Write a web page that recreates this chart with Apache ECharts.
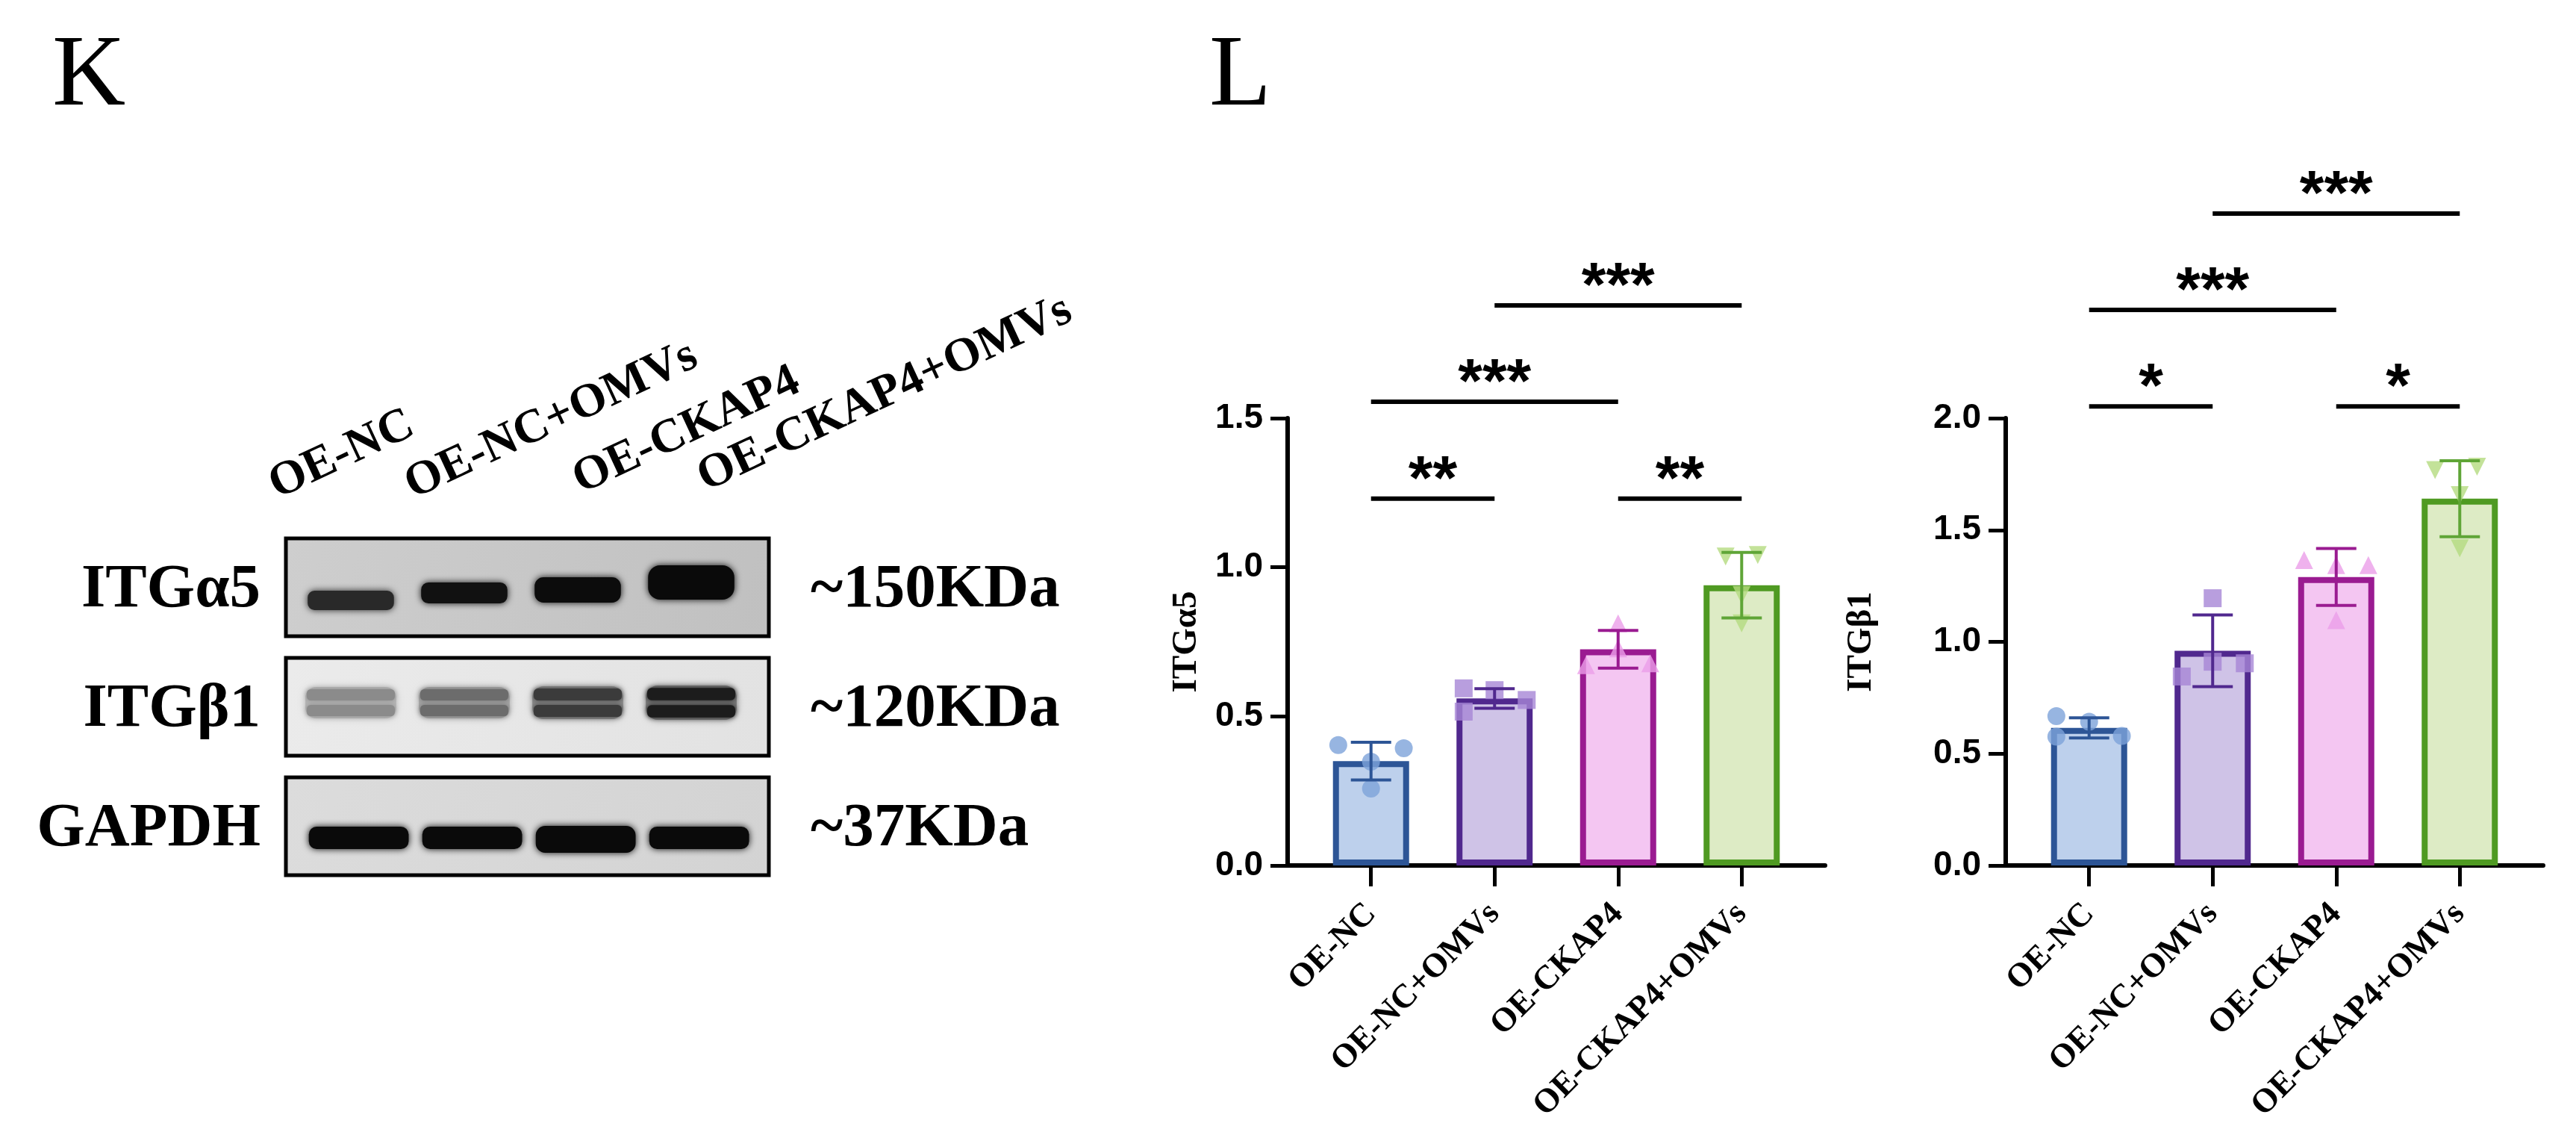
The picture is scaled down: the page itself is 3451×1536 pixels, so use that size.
<!DOCTYPE html>
<html>
<head>
<meta charset="utf-8">
<script src="https://cdn.jsdelivr.net/npm/echarts@6.0.0/dist/echarts.min.js"></script>
<style>
  html, body { margin: 0; padding: 0; background: #fff; }
  #chart { width: 3451px; height: 1536px; }
</style>
</head>
<body>
<div id="chart"></div>
<script>
// groups (same order on the blot and on both bar charts)
const groups = ['OE-NC', 'OE-NC+OMVs', 'OE-CKAP4', 'OE-CKAP4+OMVs'];

// ITGα5 quantification
const itga5Mean = [0.35, 0.56, 0.725, 0.94];
const itga5Sd = [0.063, 0.033, 0.063, 0.11];
const itga5Points = [
  [0.404, 0.393, 0.348, 0.258],
  [0.594, 0.588, 0.555, 0.516],
  [0.812, 0.728, 0.672, 0.678],
  [1.036, 1.041, 0.907, 0.812]
];
const itga5Ticks = [0, 0.5, 1.0, 1.5];
// [from group, to group, bracket height, stars]
const itga5Sig = [[0, 1, 1.23, '**'], [2, 3, 1.23, '**'], [0, 2, 1.555, '***'], [1, 3, 1.878, '***']];

// ITGβ1 quantification
const itgb1Mean = [0.615, 0.96, 1.29, 1.64];
const itgb1Sd = [0.045, 0.16, 0.127, 0.17];
const itgb1Points = [
  [0.668, 0.643, 0.576, 0.579],
  [1.195, 0.911, 0.904, 0.845],
  [1.366, 1.343, 1.343, 1.097],
  [1.768, 1.783, 1.656, 1.418]
];
const itgb1Ticks = [0, 0.5, 1.0, 1.5, 2.0];
const itgb1Sig = [[0, 1, 2.053, '*'], [2, 3, 2.053, '*'], [0, 2, 2.484, '***'], [1, 3, 2.915, '***']];

// western blot (relative band density per lane)
const blotRows = ['ITGα5', 'ITGβ1', 'GAPDH'];
const blotMarkers = ['~150KDa', '~120KDa', '~37KDa'];
const itga5Band = [0.86, 0.97, 0.99, 1.0];
const itgb1Band = [0.42, 0.56, 0.78, 0.92];
const gapdhBand = [1, 1, 1, 1];

// ---- styling / layout ----
const fills = ['#bdd0ec', '#cfc3e7', '#f4c6f2', '#ddebc5'];
const edges = ['#2d5596', '#50288e', '#9a1b91', '#4f9a22'];
const dots = ['#7da2d9', '#a686d6', '#eb9de9', '#b4db7f'];
const errColors = ['#2d5596', '#50288e', '#9a1b91', '#5fa537'];
const shapes = ['circle', 'rect', 'triangle', 'triangle'];
const rotates = [0, 0, 0, 180];
// horizontal scatter of the dots, in category widths
const itga5Jitter = [[-0.265, 0.265, 0, 0], [-0.25, 0, 0.26, -0.25], [0, 0, -0.26, 0.26], [-0.13, 0.13, 0, 0]];
const itgb1Jitter = [[-0.265, 0, -0.265, 0.265], [0, 0, 0.26, -0.25], [-0.26, 0, 0.26, 0], [-0.2, 0.14, 0, 0]];

const serif = 'Liberation Serif';
const sans = 'Liberation Sans';

// blot geometry in the hidden grid (y units = px, x units = lanes)
const rowPitch = 160;
const boxHeight = 131;
const bandLayout = [
  { cy: [83, 73, 69, 59], h: [26, 28, 34, 46], w: 0.38, dx: 0 },
  { cy: [60, 60, 60, 60], h: [42, 42, 44, 46], w: 0.40, dx: 0, double: true },
  { cy: [81, 81, 83, 81], h: [30, 30, 36, 30], w: 0.44, dx: 0.07 }
];
const boxFills = [
  ['#cecece', '#c0c0c0'],
  ['#ebebeb', '#e2e2e2'],
  ['#dcdcdc', '#d3d3d3']
];

function grayOf(d) {
  const g = Math.round(232 - d * 222);
  return 'rgb(' + g + ',' + g + ',' + g + ')';
}

function renderBox(params, api) {
  const row = api.value(0);
  const cs = params.coordSys;
  const yTop = api.coord([0, row * rowPitch])[1];
  const yBot = api.coord([0, row * rowPitch + boxHeight])[1];
  const mid = (yTop + yBot) / 2 + 4;
  const font = 'bold 83px "' + serif + '"';
  return {
    type: 'group',
    children: [
      {
        type: 'rect',
        shape: { x: cs.x, y: yTop, width: cs.width, height: yBot - yTop },
        style: {
          fill: { type: 'linear', x: 0, y: 0, x2: 1, y2: 1, colorStops: [
            { offset: 0, color: boxFills[row][0] }, { offset: 1, color: boxFills[row][1] }] },
          stroke: '#000', lineWidth: 5
        }
      },
      {
        type: 'text',
        style: { x: cs.x - 34, y: mid, text: blotRows[row], font: font, fill: '#000',
          align: 'right', verticalAlign: 'middle', textAlign: 'right', textVerticalAlign: 'middle' }
      },
      {
        type: 'text',
        style: { x: cs.x + cs.width + 56, y: mid, text: blotMarkers[row], font: font, fill: '#000',
          align: 'left', verticalAlign: 'middle', textAlign: 'left', textVerticalAlign: 'middle' }
      }
    ]
  };
}

function bandRect(api, cx, w, cy, h) {
  const p0 = api.coord([cx - w, cy - h / 2]);
  const p1 = api.coord([cx + w, cy + h / 2]);
  const hh = p1[1] - p0[1];
  return { x: p0[0], y: p0[1], width: p1[0] - p0[0], height: hh, r: hh * 0.35 };
}

function renderBand(params, api) {
  const lane = api.value(0), row = api.value(1), d = api.value(2);
  const L = bandLayout[row];
  const cx = lane + L.dx;
  const cy = row * rowPitch + L.cy[lane];
  const h = L.h[lane];
  const c = grayOf(d);
  if (!L.double) {
    return {
      type: 'rect',
      shape: bandRect(api, cx, L.w, cy, h),
      style: { fill: c, shadowBlur: 10, shadowColor: c }
    };
  }
  const soft = grayOf(d * 0.55);
  return {
    type: 'group',
    children: [
      { type: 'rect', shape: bandRect(api, cx, L.w, cy, h), style: { fill: soft, shadowBlur: 10, shadowColor: soft } },
      { type: 'rect', shape: bandRect(api, cx, L.w * 0.97, cy - h * 0.25, h * 0.36), style: { fill: c, shadowBlur: 6, shadowColor: c } },
      { type: 'rect', shape: bandRect(api, cx, L.w * 0.97, cy + h * 0.25, h * 0.36), style: { fill: c, shadowBlur: 6, shadowColor: c } }
    ]
  };
}

function renderErr(params, api) {
  const x = api.value(0), m = api.value(1), s = api.value(2);
  const top = api.coord([x, m + s]);
  const bot = api.coord([x, m - s]);
  const half = 27;
  const st = { stroke: errColors[params.dataIndex], lineWidth: 4 };
  return {
    type: 'group',
    children: [
      { type: 'line', shape: { x1: top[0], y1: top[1], x2: bot[0], y2: bot[1] }, style: st },
      { type: 'line', shape: { x1: top[0] - half, y1: top[1], x2: top[0] + half, y2: top[1] }, style: st },
      { type: 'line', shape: { x1: bot[0] - half, y1: bot[1], x2: bot[0] + half, y2: bot[1] }, style: st }
    ]
  };
}

function makeSigRender(sig) {
  return function (params, api) {
    const s = sig[params.dataIndex];
    const a = api.coord([s[0], s[2]]);
    const b = api.coord([s[1], s[2]]);
    return {
      type: 'group',
      children: [
        { type: 'line', shape: { x1: a[0], y1: a[1], x2: b[0], y2: b[1] }, style: { stroke: '#000', lineWidth: 6 } },
        {
          type: 'text',
          style: { x: (a[0] + b[0]) / 2, y: a[1] - 22, text: s[3], font: 'bold 84px "' + sans + '"', fill: '#000',
            align: 'center', verticalAlign: 'middle', textAlign: 'center', textVerticalAlign: 'middle' }
        }
      ]
    };
  };
}

function makeX(idx) {
  return {
    gridIndex: idx,
    type: 'value',
    min: -0.675,
    max: 3.675,
    splitLine: { show: false },
    axisLine: { show: true, onZero: false, lineStyle: { color: '#000', width: 6 } },
    axisTick: { show: true, customValues: [0, 1, 2, 3], length: 28, lineStyle: { color: '#000', width: 5 } },
    axisLabel: {
      customValues: [0, 1, 2, 3],
      formatter: function (v) { return groups[Math.round(v)]; },
      rotate: 45, margin: 58,
      fontFamily: serif, fontWeight: 'bold', fontSize: 45, color: '#000'
    }
  };
}

function makeY(idx, name, max, ticks, gap) {
  return {
    gridIndex: idx,
    type: 'value',
    min: 0,
    max: max,
    interval: 0.5,
    name: name,
    nameLocation: 'middle',
    nameGap: gap,
    nameTextStyle: { fontFamily: serif, fontWeight: 'bold', fontSize: 47, color: '#000' },
    splitLine: { show: false },
    axisLine: { show: true, onZero: false, lineStyle: { color: '#000', width: 6 } },
    axisTick: { show: true, customValues: ticks, length: 23, lineStyle: { color: '#000', width: 5 } },
    axisLabel: {
      customValues: ticks,
      formatter: function (v) { return v.toFixed(1); },
      margin: 33,
      fontFamily: sans, fontWeight: 'bold', fontSize: 46, color: '#000'
    }
  };
}

function chartSeries(idx, mean, sd, points, jitter, sig) {
  const dotData = [];
  points.forEach(function (arr, g) {
    arr.forEach(function (v, j) {
      dotData.push({
        value: [g + jitter[g][j], v],
        symbol: shapes[g],
        symbolRotate: rotates[g],
        itemStyle: { color: dots[g] }
      });
    });
  });
  return [
    {
      type: 'bar',
      xAxisIndex: idx, yAxisIndex: idx,
      barWidth: 102,
      silent: true,
      z: 2,
      data: mean.map(function (v, i) {
        return { value: [i, v], itemStyle: { color: fills[i], borderColor: edges[i], borderWidth: 8 } };
      })
    },
    {
      type: 'scatter',
      xAxisIndex: idx, yAxisIndex: idx,
      symbolSize: 24,
      silent: true,
      z: 3,
      data: dotData
    },
    {
      type: 'custom',
      xAxisIndex: idx, yAxisIndex: idx,
      silent: true,
      z: 4,
      renderItem: renderErr,
      data: mean.map(function (v, i) { return [i, v, sd[i]]; })
    },
    {
      type: 'custom',
      xAxisIndex: idx, yAxisIndex: idx,
      silent: true,
      clip: false,
      z: 5,
      renderItem: makeSigRender(sig),
      data: sig.map(function (s) { return [s[0], s[2]]; })
    }
  ];
}

const bandData = [];
[itga5Band, itgb1Band, gapdhBand].forEach(function (arr, r) {
  arr.forEach(function (d, lane) { bandData.push([lane, r, d]); });
});

const laneLabelPos = [[378, 682], [560, 682], [785, 675], [952, 672]];
const laneFont = 'bold 64px "' + serif + '"';

const chart = echarts.init(document.getElementById('chart'));
chart.setOption({
  backgroundColor: '#fff',
  animation: false,
  grid: [
    { left: 1725, top: 560, width: 720, height: 599, outerBoundsMode: 'none' },
    { left: 2687, top: 560, width: 720, height: 599, outerBoundsMode: 'none' },
    { left: 383, top: 721, width: 647, height: 452, outerBoundsMode: 'none' }
  ],
  xAxis: [
    makeX(0),
    makeX(1),
    { gridIndex: 2, type: 'value', min: -0.572, max: 3.684, show: false }
  ],
  yAxis: [
    makeY(0, 'ITGα5', 1.5, itga5Ticks, 112),
    makeY(1, 'ITGβ1', 2.0, itgb1Ticks, 170),
    { gridIndex: 2, type: 'value', min: 0, max: 452, inverse: true, show: false }
  ],
  graphic: [
    { type: 'text', x: 70, y: 104, style: { text: 'K', font: '136px "' + serif + '"', fill: '#000', align: 'left', verticalAlign: 'middle', textAlign: 'left', textVerticalAlign: 'middle' } },
    { type: 'text', x: 1620, y: 104, style: { text: 'L', font: '136px "' + serif + '"', fill: '#000', align: 'left', verticalAlign: 'middle', textAlign: 'left', textVerticalAlign: 'middle' } }
  ].concat(groups.map(function (g, i) {
    return {
      type: 'text',
      x: laneLabelPos[i][0], y: laneLabelPos[i][1],
      rotation: 25 * Math.PI / 180,
      style: { text: g, font: laneFont, fill: '#000', align: 'left', verticalAlign: 'bottom', textAlign: 'left', textVerticalAlign: 'bottom' }
    };
  })),
  series: [
    {
      type: 'custom',
      xAxisIndex: 2, yAxisIndex: 2,
      silent: true, clip: false, z: 1,
      renderItem: renderBox,
      data: blotRows.map(function (r, i) { return [i]; })
    },
    {
      type: 'custom',
      xAxisIndex: 2, yAxisIndex: 2,
      silent: true, z: 2,
      renderItem: renderBand,
      data: bandData
    }
  ].concat(
    chartSeries(0, itga5Mean, itga5Sd, itga5Points, itga5Jitter, itga5Sig),
    chartSeries(1, itgb1Mean, itgb1Sd, itgb1Points, itgb1Jitter, itgb1Sig)
  )
});
</script>
</body>
</html>
